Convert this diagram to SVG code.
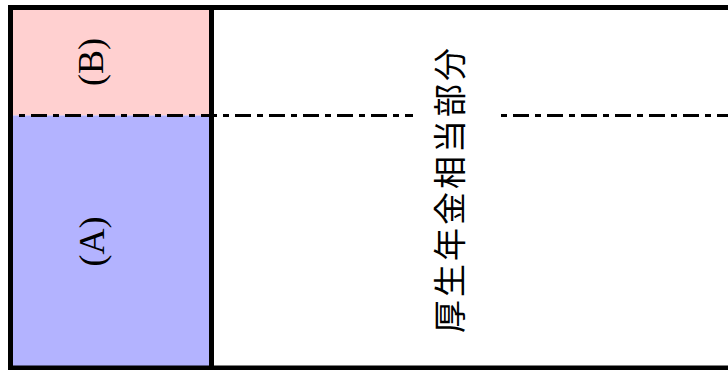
<svg xmlns="http://www.w3.org/2000/svg" width="728" height="370" viewBox="0 0 728 370">
<style>
.border{stroke:#000;stroke-width:5;fill:none}
.dash{stroke:#000;stroke-width:3;fill:none}
.lbl{font-family:"Liberation Serif","Times New Roman",serif;font-size:36px;fill:#000}
.cjk{font-family:"Noto Sans CJK JP","Noto Sans CJK SC",sans-serif;font-size:33px;letter-spacing:3px;fill:#000}
</style>
<rect width="728" height="370" fill="#fff"/>
<g id="nodeB">
<rect x="13" y="10" width="196" height="105.5" fill="#ffd0d0"/>
<text class="lbl" text-anchor="middle" transform="translate(103,62) rotate(-90)">(B)</text>
</g>
<g id="nodeA">
<rect x="13" y="115.5" width="196" height="250.5" fill="#b3b3ff"/>
<text class="lbl" text-anchor="middle" transform="translate(104,241.5) rotate(-90)">(A)</text>
</g>
<g id="nodeKousei">
<text class="cjk" transform="translate(462,333) rotate(-90)">厚生年金相当部分</text>
</g>
<g id="connectors">
<line class="dash" x1="13" y1="115.5" x2="413" y2="115.5" stroke-dasharray="16 6 6 6" stroke-dashoffset="16"/>
<line class="dash" x1="501" y1="115.5" x2="728" y2="115.5" stroke-dasharray="6 6 16 6"/>
</g>
<g id="frame">
<line class="border" x1="8" y1="7.5" x2="728" y2="7.5"/>
<line class="border" x1="8" y1="368" x2="728" y2="368"/>
<line class="border" x1="10.5" y1="5" x2="10.5" y2="370"/>
<line class="border" x1="211.5" y1="5" x2="211.5" y2="370"/>
</g>
</svg>
